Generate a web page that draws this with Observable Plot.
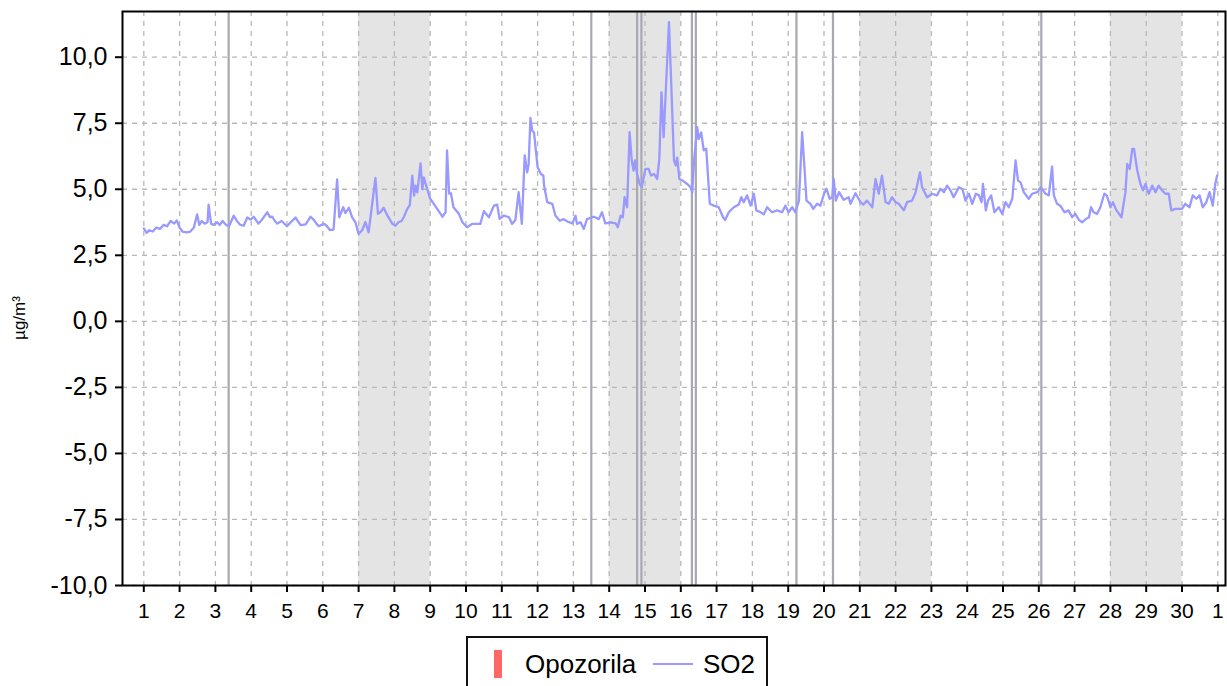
<!DOCTYPE html>
<html>
<head>
<meta charset="utf-8">
<script src="https://cdn.jsdelivr.net/npm/d3@7"></script>
<script src="https://cdn.jsdelivr.net/npm/@observablehq/plot@0.6"></script>
<style>
  html, body { margin: 0; padding: 0; background: #fff; overflow: hidden; }
  body { width: 1227px; height: 686px; position: relative; font-family: "Liberation Sans", Arial, sans-serif; }
  #chart svg { display: block; }
  #ylabel { position: absolute; left: 20px; top: 318px; transform: translate(-50%, -50%) rotate(-90deg); font-size: 17px; color: #000; white-space: nowrap; }
  #legend { position: absolute; left: 466px; top: 636px; width: 298px; height: 60px; border: 2px solid #111; background: #fff; }
  #legend .bar { position: absolute; left: 26px; top: 12px; width: 8px; height: 28px; background: #ff6666; }
  #legend .txt { position: absolute; top: 13px; font-size: 26px; line-height: 26px; color: #000; white-space: nowrap; }
  #legend .ln { position: absolute; left: 185px; top: 25px; width: 40px; height: 2px; background: #9999ff; }
</style>
</head>
<body>
<div id="chart"></div>
<div id="ylabel">µg/m³</div>
<div id="legend">
  <div class="bar"></div>
  <div class="txt" style="left:57px">Opozorila</div>
  <div class="ln"></div>
  <div class="txt" style="left:235px">SO2</div>
</div>
<script>
// ---- data ----
const so2Days = [
  1.00,1.08,1.15,1.25,1.35,1.45,1.55,1.65,1.75,1.85,1.92,2.00,2.08,2.20,2.30,2.40,2.49,2.55,2.62,2.70,
  2.78,2.81,2.88,2.95,3.05,3.12,3.20,3.30,3.38,3.51,3.60,3.70,3.79,3.89,3.98,4.07,4.20,4.30,4.45,4.52,
  4.59,4.66,4.73,4.85,5.00,5.10,5.24,5.30,5.38,5.52,5.66,5.75,5.82,5.89,6.03,6.12,6.20,6.30,6.40,6.46,
  6.57,6.63,6.73,6.82,6.91,7.00,7.10,7.19,7.28,7.35,7.47,7.54,7.62,7.70,7.80,7.94,8.03,8.12,8.20,8.26,
  8.36,8.43,8.50,8.55,8.59,8.64,8.73,8.78,8.82,8.90,9.00,9.10,9.29,9.34,9.43,9.47,9.53,9.58,9.65,9.80,
  9.90,10.03,10.17,10.40,10.50,10.64,10.78,10.87,10.94,11.06,11.20,11.29,11.38,11.47,11.56,11.64,11.71,11.75,11.80,11.85,
  11.90,12.00,12.09,12.16,12.18,12.27,12.41,12.50,12.62,12.73,12.83,12.97,13.06,13.10,13.20,13.29,13.38,13.57,13.71,13.80,
  13.89,14.04,14.18,14.24,14.32,14.38,14.43,14.50,14.57,14.63,14.68,14.72,14.78,14.85,14.91,15.01,15.10,15.17,15.25,15.34,
  15.40,15.46,15.52,15.67,15.81,15.86,15.90,15.96,16.05,16.18,16.27,16.32,16.37,16.46,16.50,16.57,16.64,16.71,16.81,16.92,
  17.06,17.18,17.24,17.34,17.48,17.62,17.69,17.76,17.85,17.95,18.04,18.11,18.23,18.32,18.41,18.55,18.69,18.83,18.92,19.01,
  19.11,19.20,19.30,19.39,19.46,19.51,19.62,19.70,19.81,19.90,20.00,20.07,20.16,20.23,20.27,20.33,20.42,20.55,20.69,20.74,
  20.88,21.02,21.10,21.20,21.35,21.44,21.53,21.62,21.72,21.81,21.90,22.00,22.09,22.23,22.32,22.46,22.56,22.68,22.74,22.88,
  23.02,23.16,23.25,23.35,23.44,23.53,23.62,23.77,23.87,23.95,24.05,24.14,24.24,24.33,24.40,24.44,24.52,24.58,24.67,24.76,
  24.88,24.98,25.07,25.16,25.26,25.35,25.42,25.49,25.58,25.72,25.81,25.96,26.05,26.19,26.28,26.37,26.42,26.51,26.60,26.72,
  26.83,26.93,27.02,27.12,27.21,27.31,27.40,27.46,27.53,27.63,27.72,27.83,27.90,28.00,28.07,28.17,28.31,28.42,28.47,28.54,
  28.61,28.66,28.75,28.84,28.91,28.98,29.07,29.17,29.26,29.35,29.44,29.54,29.63,29.70,29.82,30.00,30.09,30.21,30.30,30.40,
  30.49,30.58,30.68,30.77,30.86,30.93,30.98
];
const so2Values = [
  3.52,3.35,3.45,3.40,3.55,3.50,3.65,3.60,3.80,3.70,3.82,3.55,3.40,3.37,3.40,3.55,4.05,3.65,3.80,3.70,
  3.75,4.42,3.70,3.65,3.75,3.65,3.80,3.65,3.60,4.00,3.80,3.65,3.62,3.93,3.85,3.96,3.70,3.85,4.13,3.95,
  3.96,3.80,3.70,3.80,3.60,3.75,3.93,3.80,3.64,3.67,3.96,3.84,3.70,3.60,3.70,3.60,3.45,3.47,5.37,3.94,
  4.32,4.10,4.30,3.94,3.76,3.31,3.45,3.76,3.37,4.13,5.43,4.07,4.15,4.30,4.02,3.70,3.62,3.76,3.80,3.94,
  4.26,4.40,5.52,4.76,5.14,4.88,5.98,5.00,5.45,5.08,4.64,4.45,4.07,3.96,4.13,6.47,4.83,4.85,4.32,4.07,
  3.75,3.56,3.69,3.69,4.17,3.94,4.38,4.42,3.88,4.00,3.94,3.69,3.84,4.89,3.69,6.28,5.64,5.96,7.70,7.22,
  7.15,5.83,5.58,5.52,5.14,4.51,4.45,4.00,3.81,3.87,3.78,3.71,4.00,3.69,3.75,3.50,3.87,3.96,3.87,4.13,
  3.71,3.75,3.71,3.56,4.00,3.94,4.70,4.32,7.16,6.09,5.71,6.09,5.58,5.20,5.08,5.77,5.77,5.52,5.58,5.39,
  6.15,8.67,6.97,11.33,6.09,5.90,6.20,5.39,5.33,5.20,5.08,4.89,6.09,7.35,6.90,7.15,6.47,6.54,4.45,4.38,
  4.32,3.94,3.84,4.13,4.32,4.42,4.70,4.51,4.77,4.38,4.83,4.20,4.13,4.05,4.32,4.13,4.20,4.13,4.38,4.13,
  4.32,4.13,4.57,7.16,5.71,4.57,4.45,4.26,4.45,4.38,4.83,5.02,4.64,4.70,5.39,4.57,4.89,4.60,4.70,4.45,
  4.85,4.51,4.42,4.57,4.32,5.39,4.83,5.52,4.51,4.45,4.70,4.51,4.45,4.20,4.51,4.57,4.89,5.64,5.08,4.70,
  4.83,4.77,5.02,4.89,5.14,4.96,4.70,5.08,5.00,4.57,4.83,4.45,4.83,4.77,4.51,5.20,4.20,4.57,4.77,4.13,
  4.32,4.07,4.51,4.32,4.64,6.09,5.33,5.26,4.89,4.64,4.83,4.89,5.08,4.83,4.77,5.86,4.77,4.45,4.38,4.13,
  4.20,3.94,4.07,3.84,3.75,3.87,3.94,4.32,4.13,4.07,4.32,4.83,4.77,4.32,4.51,4.20,3.94,4.89,5.96,5.77,
  6.53,6.53,5.71,5.20,4.96,5.20,4.83,5.14,4.89,5.14,4.96,4.83,4.83,4.20,4.26,4.26,4.45,4.32,4.77,4.64,
  4.77,4.32,4.51,4.89,4.38,5.20,5.52
];
const weekendStarts = [7, 14, 21, 28];          // shaded two-day bands
const gapDays = [3.37, 13.5, 14.78, 14.9, 16.31, 16.42, 19.23, 20.25, 26.07]; // grey vertical markers
const xTickDays = d3.range(1, 32);
const xTickLabels = [...d3.range(1, 31).map(String), "1"];
const yTicks = [-10, -7.5, -5, -2.5, 0, 2.5, 5, 7.5, 10];
const xDomain = [0.405, 31.215];
const yDomain = [-10, 11.73];

const so2 = so2Values.map((v, i) => ({day: so2Days[i], value: v}));

const W = 1227, H = 630;
const chart = Plot.plot({
  width: W,
  height: H,
  marginLeft: 122,
  marginRight: 2,
  marginTop: 11,
  marginBottom: H - 585,
  style: {fontFamily: "'Liberation Sans', Arial, sans-serif", background: "white", color: "black", overflow: "visible"},
  x: {domain: xDomain, axis: null},
  y: {domain: yDomain, axis: null},
  marks: [
    Plot.rect(weekendStarts, {x1: d => d, x2: d => d + 2, fill: "#e4e4e4"}),
    Plot.gridX(xTickDays, {stroke: "#b8b8b8", strokeOpacity: 1, strokeWidth: 1.3, strokeDasharray: "5,5"}),
    Plot.gridY(yTicks, {stroke: "#b8b8b8", strokeOpacity: 1, strokeWidth: 1.3, strokeDasharray: "5,5"}),
    Plot.ruleX(gapDays, {stroke: "#a8a8b2", strokeWidth: 2.2}),
    Plot.line(so2, {x: "day", y: "value", stroke: "#9999ff", strokeWidth: 2.3, strokeLinejoin: "round"}),
    Plot.frame({stroke: "#000", strokeWidth: 2}),
    Plot.axisX(xTickDays, {
      tickFormat: d => xTickLabels[xTickDays.indexOf(d)],
      tickSize: 7, tickPadding: 11, fontSize: 21, stroke: "#000", strokeWidth: 2, fill: "#000", label: null
    }),
    Plot.axisY(yTicks, {
      tickFormat: d => d.toFixed(1).replace(".", ","),
      tickSize: 7, tickPadding: 8, fontSize: 25, stroke: "#000", strokeWidth: 2, fill: "#000", label: null
    })
  ]
});
document.getElementById("chart").appendChild(chart);
</script>
</body>
</html>
